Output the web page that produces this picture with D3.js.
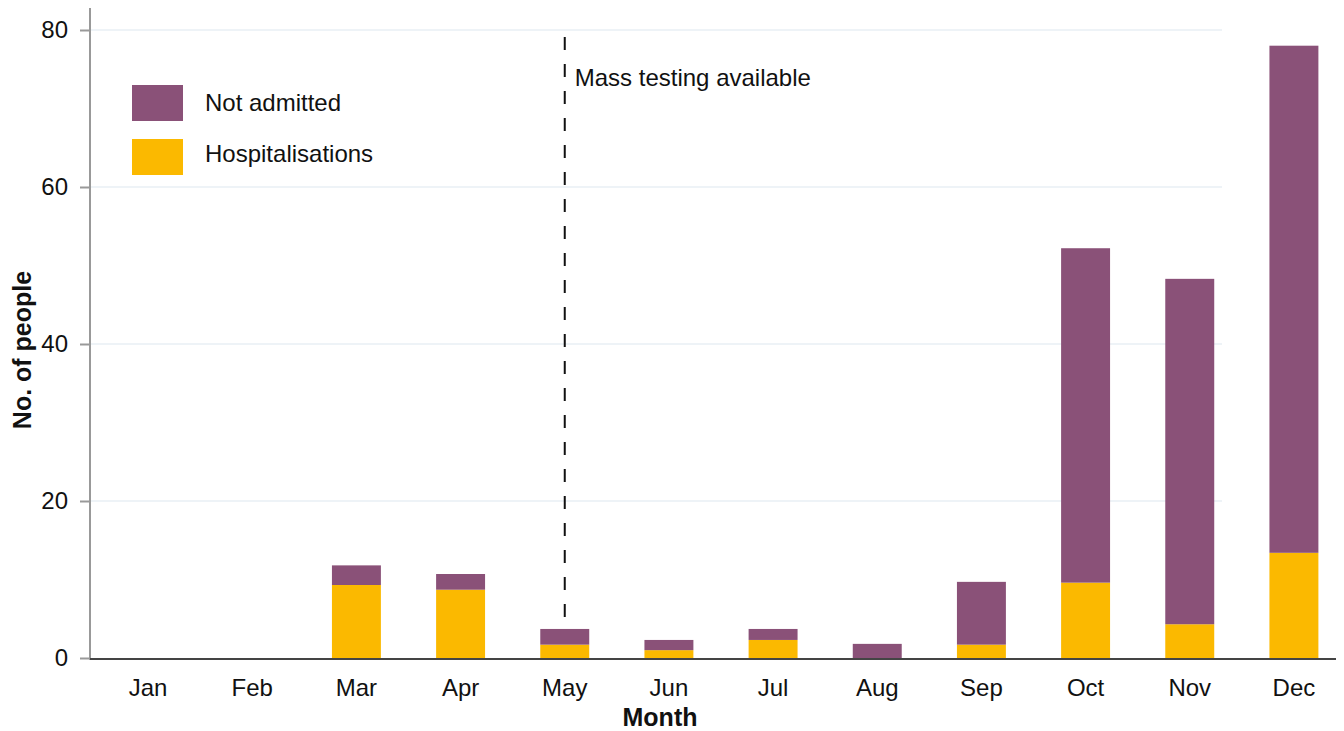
<!DOCTYPE html>
<html>
<head>
<meta charset="utf-8">
<script src="https://cdn.jsdelivr.net/npm/d3@7"></script>
<style>
body { margin: 0; background: #fff; }
text { font-family: "Liberation Sans", Arial, sans-serif; fill: #111; }
</style>
</head>
<body>
<svg width="1344" height="731"></svg>
<script>
// data
var months = ["Jan","Feb","Mar","Apr","May","Jun","Jul","Aug","Sep","Oct","Nov","Dec"];
var hospitalisations = [0, 0, 9.3, 8.7, 1.7, 1.0, 2.3, 0, 1.7, 9.6, 4.3, 13.4];
var notAdmitted = [0, 0, 2.5, 2.0, 2.0, 1.3, 1.4, 1.8, 8.0, 42.6, 44.0, 64.6];
var yTicks = [0, 20, 40, 60, 80];
var seriesNames = ["Not admitted", "Hospitalisations"];
var colors = {"Not admitted": "#8a5178", "Hospitalisations": "#fbb900"};
var markerMonth = "May";
var markerText = "Mass testing available";

var svg = d3.select("svg");

var x = d3.scaleBand()
    .domain(months)
    .range([96, 1346])
    .paddingInner(0.53)
    .paddingOuter(0.265);

var y = d3.scaleLinear()
    .domain([0, 80])
    .range([658, 30]);

// gridlines
svg.append("g")
    .selectAll("line")
    .data(yTicks.slice(1))
    .enter()
    .append("line")
    .attr("x1", 91).attr("x2", 1222)
    .attr("y1", function(d){ return y(d); })
    .attr("y2", function(d){ return y(d); })
    .style("stroke", "#eef3f7")
    .style("stroke-width", 2);

// stacked bars
var rows = months.map(function(m, i){
    return {month: m, "Hospitalisations": hospitalisations[i], "Not admitted": notAdmitted[i]};
});
var stack = d3.stack().keys(["Hospitalisations", "Not admitted"]);
var layers = stack(rows);

svg.append("g")
    .selectAll("g")
    .data(layers)
    .enter()
    .append("g")
    .style("fill", function(d){ return colors[d.key]; })
    .selectAll("rect")
    .data(function(d){ return d; })
    .enter()
    .append("rect")
    .attr("x", function(d){ return x(d.data.month); })
    .attr("width", x.bandwidth())
    .attr("y", function(d){ return y(d[1]); })
    .attr("height", function(d){ return y(d[0]) - y(d[1]); });

// y axis
var yAxis = svg.append("g")
    .attr("transform", "translate(90,0)")
    .call(d3.axisLeft(y).tickValues(yTicks).tickSize(10).tickPadding(12));
yAxis.select(".domain").remove();
yAxis.selectAll(".tick line").style("stroke", "#999").style("stroke-width", 2);
yAxis.selectAll(".tick text")
    .style("font-size", "24px")
    .style("font-family", "Liberation Sans, Arial, sans-serif")
    .style("fill", "#111");
svg.append("line")
    .attr("x1", 90).attr("x2", 90)
    .attr("y1", 8).attr("y2", 660)
    .style("stroke", "#999").style("stroke-width", 2);

// x axis
var xAxis = svg.append("g")
    .attr("transform", "translate(0,658)")
    .call(d3.axisBottom(x).tickSize(0).tickPadding(21));
xAxis.select(".domain").remove();
xAxis.selectAll(".tick text")
    .style("font-size", "24px")
    .style("font-family", "Liberation Sans, Arial, sans-serif")
    .style("fill", "#111");
svg.append("line")
    .attr("x1", 90).attr("x2", 1336)
    .attr("y1", 659).attr("y2", 659)
    .style("stroke", "#444").style("stroke-width", 2);

// axis titles
svg.append("text")
    .attr("x", 660).attr("y", 726)
    .attr("text-anchor", "middle")
    .style("font-size", "25px").style("font-weight", "bold")
    .text("Month");
svg.append("text")
    .attr("transform", "translate(31,350) rotate(-90)")
    .attr("text-anchor", "middle")
    .style("font-size", "25px").style("font-weight", "bold")
    .text("No. of people");

// marker line
var mx = x(markerMonth) + x.bandwidth() / 2;
svg.append("line")
    .attr("x1", mx).attr("x2", mx)
    .attr("y1", 617).attr("y2", 30)
    .style("stroke", "#111")
    .style("stroke-width", 2)
    .style("stroke-dasharray", "13,14");
svg.append("text")
    .attr("x", mx + 10).attr("y", 86)
    .style("font-size", "24px")
    .text(markerText);

// legend
var legend = svg.append("g")
    .selectAll("g")
    .data(seriesNames)
    .enter()
    .append("g")
    .attr("transform", function(d, i){ return "translate(132," + (85 + i * 54) + ")"; });
legend.append("rect")
    .attr("width", 51).attr("height", 36)
    .style("fill", function(d){ return colors[d]; });
legend.append("text")
    .attr("x", 73)
    .attr("y", function(d, i){ return 26 - i * 3; })
    .style("font-size", "24px")
    .text(function(d){ return d; });
</script>
</body>
</html>
